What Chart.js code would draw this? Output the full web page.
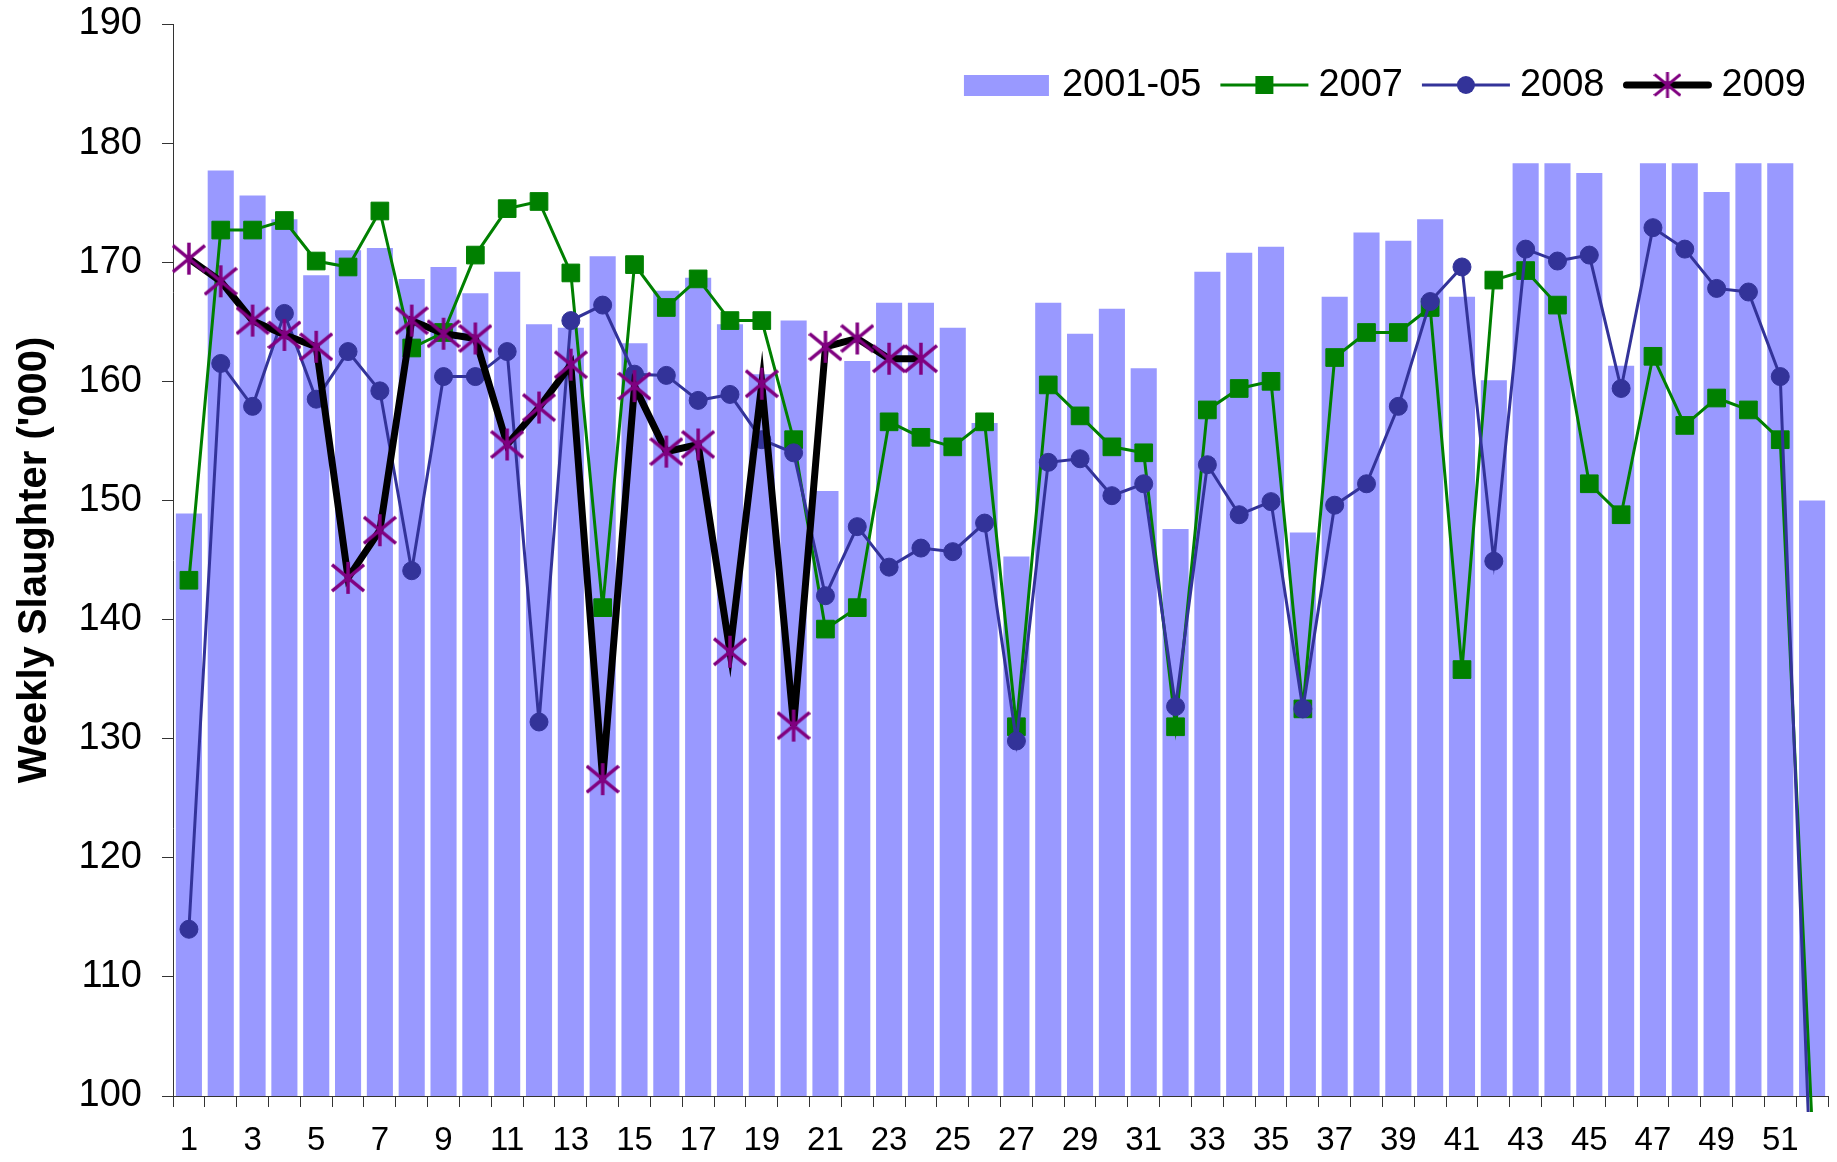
<!DOCTYPE html>
<html>
<head>
<meta charset="utf-8">
<title>Weekly Slaughter</title>
<script src="https://cdn.jsdelivr.net/npm/chart.js@4.4.1/dist/chart.umd.min.js"></script>
<style>
  html, body { margin: 0; padding: 0; background: #fff; }
  #wrap { width: 1837px; height: 1162px; }
</style>
</head>
<body>
<div id="wrap"><canvas id="chartSlaughter" width="1837" height="1162"></canvas></div>
<script>
// weeks of the year
const weeks = ['1','2','3','4','5','6','7','8','9','10','11','12','13','14','15','16','17','18','19','20',
  '21','22','23','24','25','26','27','28','29','30','31','32','33','34','35','36','37','38','39','40',
  '41','42','43','44','45','46','47','48','49','50','51','52'];

// 2001-05 average (bars)
const avg0105 = [148.9, 177.7, 175.6, 173.6, 168.9, 171.0, 171.2, 168.6, 169.6, 167.4,
  169.2, 164.8, 164.5, 170.5, 163.2, 167.6, 168.7, 164.8, 160.6, 165.1,
  150.8, 161.7, 166.6, 166.6, 164.5, 156.5, 145.3, 166.6, 164.0, 166.1,
  161.1, 147.6, 169.2, 170.8, 171.3, 147.3, 167.1, 172.5, 171.8, 173.6,
  167.1, 160.1, 178.3, 178.3, 177.5, 161.3, 178.3, 178.3, 175.9, 178.3,
  178.3, 150.0];

const y2007 = [143.3, 172.7, 172.7, 173.5, 170.1, 169.6, 174.3, 162.8, 164.1, 170.6,
  174.5, 175.1, 169.1, 141.0, 169.8, 166.2, 168.6, 165.1, 165.1, 155.1,
  139.2, 141.0, 156.6, 155.3, 154.5, 156.6, 131.0, 159.7, 157.1, 154.5,
  154.0, 131.0, 157.6, 159.4, 160.0, 132.5, 162.0, 164.1, 164.1, 166.2,
  135.8, 168.5, 169.3, 166.4, 151.4, 148.8, 162.1, 156.3, 158.6, 157.6,
  155.1, 97.5];

const y2008 = [114.0, 161.5, 157.9, 165.7, 158.5, 162.5, 159.2, 144.1, 160.4, 160.4,
  162.5, 131.4, 165.1, 166.4, 160.6, 160.5, 158.4, 158.9, 155.1, 154.0,
  142.0, 147.8, 144.4, 146.0, 145.7, 148.1, 129.8, 153.2, 153.5, 150.4,
  151.4, 132.7, 153.0, 148.8, 149.9, 132.5, 149.6, 151.4, 157.9, 166.7,
  169.6, 144.9, 171.1, 170.1, 170.6, 159.4, 172.9, 171.1, 167.8, 167.5,
  160.4, 90.0];

const y2009 = [170.3, 168.4, 165.1, 163.9, 162.9, 143.5, 147.5, 165.1, 164.0, 163.6,
  154.7, 157.8, 161.4, 126.6, 159.6, 154.1, 154.7, 137.3, 159.8, 131.1,
  162.9, 163.6, 161.9, 161.9];

const seriesNames = ['2001-05', '2007', '2008', '2009'];

const FONT = '"Liberation Sans", Arial, Helvetica, sans-serif';
const BAR_COLOR = '#9999FF';
const GREEN = '#008000';
const NAVY = '#333399';
const PURPLE = '#800080';

// Excel-style asterisk marker (X plus a vertical stroke)
function makeAsterisk(size, lw) {
  const c = document.createElement('canvas');
  c.width = size; c.height = size;
  const g = c.getContext('2d');
  g.strokeStyle = PURPLE;
  g.lineWidth = lw;
  const m = size / 2, r = size / 2 - 1;
  g.beginPath();
  g.moveTo(m, m - r); g.lineTo(m, m + r);
  g.moveTo(m - r, m - r * 0.82); g.lineTo(m + r, m + r * 0.82);
  g.moveTo(m - r, m + r * 0.82); g.lineTo(m + r, m - r * 0.82);
  g.stroke();
  return c;
}
const starMarker = makeAsterisk(34, 3.5);
const starLegend = makeAsterisk(28, 3);

// legend drawn inside the plot, top right
const insideLegend = {
  id: 'insideLegend',
  afterDatasetsDraw(chart) {
    const ctx = chart.ctx;
    const area = chart.chartArea;
    const iconW = 88, gapIcon = 10, gapItem = 19;
    const y = area.top + 61;
    ctx.save();
    ctx.font = '38px ' + FONT;
    ctx.textBaseline = 'middle';
    let total = 0;
    seriesNames.forEach((n, i) => {
      total += iconW + gapIcon + ctx.measureText(n).width + (i ? gapItem : 0);
    });
    let x = area.right - 22 - total;
    seriesNames.forEach((n, i) => {
      const cx = x + iconW / 2;
      if (i === 0) {
        ctx.fillStyle = BAR_COLOR;
        ctx.fillRect(x, y - 10, iconW - 3, 21);
      } else if (i === 1) {
        ctx.strokeStyle = GREEN; ctx.lineWidth = 3;
        ctx.beginPath(); ctx.moveTo(x, y); ctx.lineTo(x + iconW, y); ctx.stroke();
        ctx.fillStyle = GREEN;
        ctx.fillRect(cx - 9, y - 9, 18, 18);
      } else if (i === 2) {
        ctx.strokeStyle = NAVY; ctx.lineWidth = 3;
        ctx.beginPath(); ctx.moveTo(x, y); ctx.lineTo(x + iconW, y); ctx.stroke();
        ctx.fillStyle = NAVY;
        ctx.beginPath(); ctx.arc(cx, y, 9, 0, Math.PI * 2); ctx.fill();
      } else {
        ctx.strokeStyle = '#000'; ctx.lineWidth = 7; ctx.lineCap = 'round';
        ctx.beginPath(); ctx.moveTo(x + 3, y); ctx.lineTo(x + iconW - 3, y); ctx.stroke();
        ctx.drawImage(starLegend, cx - starLegend.width / 2, y - starLegend.height / 2);
      }
      x += iconW + gapIcon;
      ctx.fillStyle = '#000';
      ctx.fillText(n, x, y + 1);
      x += ctx.measureText(n).width + gapItem;
    });
    ctx.restore();
  }
};

const lineClip = { left: 20, top: 20, right: 20, bottom: 16 };

new Chart(document.getElementById('chartSlaughter').getContext('2d'), {
  type: 'bar',
  data: {
    labels: weeks,
    datasets: [
      {
        type: 'bar',
        label: seriesNames[0],
        data: avg0105,
        backgroundColor: BAR_COLOR,
        borderWidth: 0,
        categoryPercentage: 1,
        barPercentage: 0.82,
        order: 4
      },
      {
        type: 'line',
        label: seriesNames[1],
        data: y2007,
        borderColor: GREEN,
        borderWidth: 3,
        backgroundColor: GREEN,
        pointStyle: 'rect',
        pointRadius: 12.5,
        pointBorderWidth: 1,
        pointBorderColor: GREEN,
        tension: 0,
        clip: lineClip,
        order: 3
      },
      {
        type: 'line',
        label: seriesNames[2],
        data: y2008,
        borderColor: NAVY,
        borderWidth: 3,
        backgroundColor: NAVY,
        pointStyle: 'circle',
        pointRadius: 9,
        pointBorderWidth: 1,
        pointBorderColor: NAVY,
        tension: 0,
        clip: lineClip,
        order: 2
      },
      {
        type: 'line',
        label: seriesNames[3],
        data: y2009,
        borderColor: '#000',
        borderWidth: 7,
        pointStyle: starMarker,
        pointRadius: 17,
        tension: 0,
        clip: lineClip,
        order: 1
      }
    ]
  },
  options: {
    responsive: false,
    animation: false,
    events: [],
    layout: { autoPadding: false, padding: { left: 0, right: 9, top: 24, bottom: 0 } },
    scales: {
      x: {
        grid: {
          display: true,
          drawOnChartArea: false,
          drawTicks: true,
          tickLength: 11,
          color: '#333',
          offset: true
        },
        border: { color: '#333', width: 1 },
        ticks: {
          autoSkip: false,
          maxRotation: 0,
          padding: 14,
          color: '#000',
          font: { family: FONT, size: 33 },
          callback: function(value, index) {
            return index % 2 === 0 ? weeks[index] : '';
          }
        },
        afterFit: function(scale) {
          scale.height = 66;
          scale.paddingLeft = 0;
          scale.paddingRight = 0;
        }
      },
      y: {
        min: 100,
        max: 190,
        ticks: {
          stepSize: 10,
          padding: 20,
          color: '#000',
          font: { family: FONT, size: 38 }
        },
        grid: {
          display: true,
          drawOnChartArea: false,
          drawTicks: true,
          tickLength: 11,
          color: '#333'
        },
        border: { color: '#333', width: 1 },
        title: {
          display: true,
          text: "Weekly Slaughter ('000)",
          color: '#000',
          font: { family: FONT, size: 40, weight: 'bold' },
          padding: { top: 11, bottom: 0 }
        },
        afterFit: function(scale) {
          scale.width = 173;
          scale.paddingTop = 0;
          scale.paddingBottom = 0;
        }
      }
    },
    plugins: {
      legend: { display: false },
      tooltip: { enabled: false }
    }
  },
  plugins: [insideLegend]
});
</script>
</body>
</html>
